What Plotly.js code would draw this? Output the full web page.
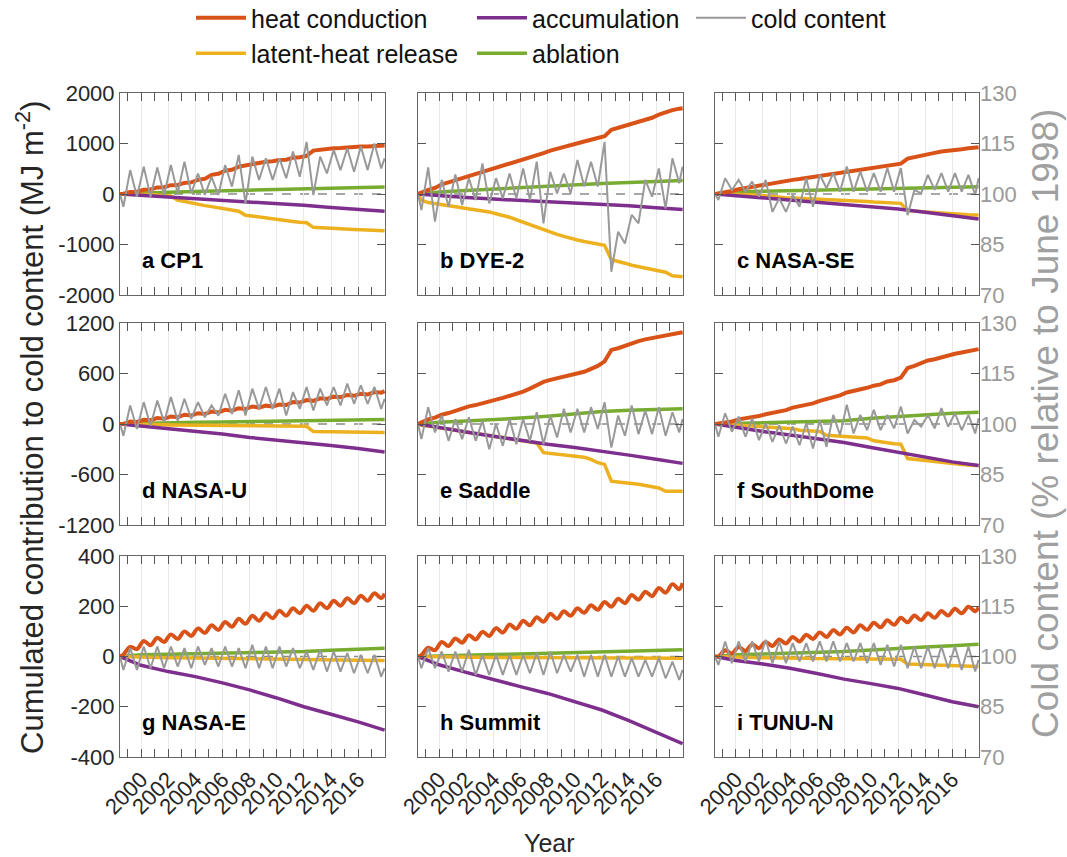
<!DOCTYPE html>
<html>
<head>
<meta charset="utf-8">
<script src="https://cdn.plot.ly/plotly-3.0.1.min.js"></script>
<style>html,body{margin:0;padding:0;background:#fff;}#chart{width:1067px;height:857px;}</style>
</head>
<body>
<div id="chart"></div>
<script>
// ---------- time axes ----------
const T2 = [1998.45, 1998.7, 1999.2, 1999.7, 2000.2, 2000.7, 2001.2, 2001.7, 2002.2, 2002.7, 2003.2, 2003.7, 2004.2, 2004.7, 2005.2, 2005.7, 2006.2, 2006.7, 2007.2, 2007.7, 2008.2, 2008.7, 2009.2, 2009.7, 2010.2, 2010.7, 2011.2, 2011.7, 2012.2, 2012.7, 2013.2, 2013.7, 2014.2, 2014.7, 2015.2, 2015.7, 2016.2, 2016.7, 2017.2, 2017.7, 2017.95];
const TY = [1998.45, 2000, 2002, 2004, 2006, 2008, 2010, 2012, 2014, 2016, 2017.95];

// ---------- labels / ticks ----------
const panelLabels = ['a CP1', 'b DYE-2', 'c NASA-SE', 'd NASA-U', 'e Saddle', 'f SouthDome', 'g NASA-E', 'h Summit', 'i TUNU-N'];
const seriesNames = ['heat conduction', 'latent-heat release', 'accumulation', 'ablation', 'cold content'];
const leftTicks = [[-2000, -1000, 0, 1000, 2000], [-1200, -600, 0, 600, 1200], [-400, -200, 0, 200, 400]];
const rightTicks = [70, 85, 100, 115, 130];
const yearTicks = [2000, 2002, 2004, 2006, 2008, 2010, 2012, 2014, 2016];

// ---------- heat conduction (MJ m-2, on T2) ----------
const heatA = [0, 5, 40, 45, 85, 90, 130, 135, 175, 180, 220, 230, 280, 300, 380, 400, 460, 480, 540, 565, 600, 610, 640, 650, 675, 680, 720, 730, 755, 860, 880, 890, 905, 910, 925, 928, 940, 942, 955, 958, 960];
const heatB = [0, 30, 80, 120, 190, 230, 270, 310, 360, 400, 440, 480, 520, 560, 600, 640, 690, 730, 770, 810, 860, 900, 935, 965, 1010, 1040, 1075, 1100, 1145, 1270, 1310, 1345, 1385, 1430, 1470, 1510, 1570, 1620, 1660, 1690, 1700];
const heatC = [0, 10, 40, 60, 95, 120, 150, 170, 200, 215, 240, 255, 280, 295, 315, 330, 355, 370, 395, 410, 435, 450, 480, 495, 515, 525, 550, 565, 600, 700, 730, 775, 800, 815, 840, 850, 870, 885, 905, 915, 925];
const heatD = [0, 0, 30, 25, 50, 45, 70, 62, 90, 80, 110, 100, 128, 118, 148, 138, 168, 158, 188, 178, 208, 195, 218, 208, 232, 225, 262, 255, 285, 275, 305, 298, 325, 318, 345, 335, 360, 350, 380, 372, 390];
const heatE = [0, 20, 55, 75, 110, 130, 160, 180, 210, 225, 250, 265, 290, 310, 335, 355, 385, 420, 460, 500, 525, 545, 565, 580, 600, 620, 655, 690, 745, 880, 900, 930, 965, 985, 1005, 1020, 1045, 1060, 1075, 1085, 1090];
const heatF = [0, 5, 25, 30, 55, 65, 85, 95, 115, 130, 155, 165, 195, 210, 235, 245, 275, 295, 320, 340, 375, 390, 415, 430, 455, 470, 505, 520, 550, 665, 690, 720, 755, 770, 795, 810, 835, 850, 870, 880, 890];
const heatG = [0, 8, 38, 30, 62, 45, 75, 58, 88, 70, 100, 82, 112, 94, 124, 106, 137, 118, 150, 130, 162, 142, 172, 152, 182, 162, 192, 172, 202, 182, 212, 192, 222, 202, 232, 212, 242, 222, 252, 232, 250];
const heatH = [0, 5, 35, 25, 58, 42, 72, 55, 85, 68, 98, 82, 113, 95, 127, 110, 142, 124, 156, 138, 170, 150, 180, 162, 192, 174, 204, 186, 217, 198, 230, 212, 245, 226, 258, 240, 273, 254, 288, 268, 292];
const heatI = [0, 0, 25, 12, 38, 22, 48, 33, 58, 42, 68, 52, 78, 60, 87, 70, 96, 78, 105, 88, 114, 96, 124, 106, 134, 116, 144, 126, 154, 136, 163, 145, 172, 154, 181, 163, 190, 172, 198, 180, 195];

// ---------- latent-heat release ----------
const latentA = [0, 0, 0, 0, 0, -10, -20, -30, -40, -120, -150, -180, -210, -230, -250, -270, -290, -310, -340, -420, -440, -460, -470, -490, -510, -530, -545, -560, -570, -660, -670, -680, -690, -695, -700, -705, -710, -715, -720, -728, -730];
const latentB = [0, -120, -170, -190, -215, -235, -255, -270, -290, -310, -330, -355, -390, -420, -460, -510, -560, -610, -660, -715, -750, -800, -840, -880, -910, -940, -970, -1000, -1015, -1300, -1330, -1370, -1410, -1440, -1470, -1500, -1530, -1550, -1620, -1640, -1640];
const latentC = [0, 0, 0, 0, -5, -10, -15, -25, -40, -55, -65, -75, -80, -85, -90, -95, -100, -105, -110, -120, -130, -140, -145, -150, -160, -165, -170, -175, -185, -330, -340, -355, -365, -375, -385, -390, -400, -405, -410, -415, -415];
const latentD = [0, 0, -2, -4, -5, -6, -8, -10, -11, -12, -14, -15, -16, -17, -18, -19, -20, -21, -22, -23, -24, -25, -25, -26, -26, -27, -27, -28, -28, -90, -91, -92, -93, -94, -95, -96, -97, -98, -99, -100, -100];
const latentE = [0, -15, -25, -35, -45, -60, -75, -90, -100, -110, -120, -130, -145, -160, -175, -190, -205, -215, -225, -340, -350, -360, -365, -370, -380, -395, -420, -460, -480, -680, -690, -695, -700, -715, -730, -740, -760, -800, -800, -800, -800];
const latentF = [0, 0, -5, -10, -15, -20, -25, -30, -35, -40, -45, -50, -55, -75, -80, -85, -90, -135, -140, -145, -150, -155, -160, -165, -200, -215, -225, -235, -240, -410, -420, -430, -440, -450, -460, -468, -475, -482, -488, -492, -495];
const latentG = [0, -3, -5, -6, -8, -9, -11, -13, -14, -15, -16];
const latentH = [0, -2, -3, -4, -4, -5, -5, -6, -6, -7, -7];
const latentI = [0, 0, -1, -2, -3, -3, -4, -4, -5, -5, -6, -6, -7, -7, -7, -8, -8, -8, -9, -9, -9, -9, -10, -10, -10, -10, -11, -11, -11, -30, -31, -32, -33, -34, -35, -36, -37, -38, -39, -40, -40];

// ---------- accumulation (on TY) ----------
const accumA = [0, -25, -55, -85, -120, -155, -190, -225, -265, -300, -340];
const accumB = [0, -35, -70, -100, -125, -150, -175, -205, -235, -270, -305];
const accumC = [0, -35, -80, -120, -160, -200, -245, -295, -360, -430, -495];
const accumD = [0, -25, -50, -80, -120, -160, -190, -220, -255, -292, -332];
const accumE = [0, -45, -95, -145, -195, -240, -280, -320, -370, -420, -468];
const accumF = [0, -40, -90, -130, -175, -220, -280, -340, -400, -450, -492];
const accumG = [0, -35, -60, -80, -105, -133, -165, -200, -230, -260, -293];
const accumH = [0, -33, -63, -93, -120, -147, -180, -213, -255, -300, -347];
const accumI = [0, -16, -30, -47, -68, -90, -108, -127, -153, -180, -200];

// ---------- ablation (on TY) ----------
const ablA = [0, 20, 35, 50, 65, 80, 95, 110, 120, 130, 140];
const ablB = [0, 40, 70, 100, 130, 160, 185, 210, 230, 250, 265];
const ablC = [0, 45, 55, 65, 75, 90, 105, 115, 125, 135, 145];
const ablD = [0, 8, 15, 20, 24, 28, 33, 38, 43, 48, 52];
const ablE = [0, 20, 35, 48, 70, 92, 120, 148, 162, 172, 180];
const ablF = [0, 8, 18, 28, 35, 40, 68, 88, 118, 128, 140];
const ablG = [0, 7, 9, 11, 12, 13, 16, 20, 25, 29, 33];
const ablH = [0, 3, 6, 8, 10, 13, 15, 17, 21, 24, 27];
const ablI = [0, 7, 10, 13, 16, 20, 26, 33, 38, 43, 49];

// ---------- cold content (% relative to June 1998, on T2) ----------
const coldA = [100, 96.2, 107.1, 99.2, 108.1, 99.2, 107.9, 99.7, 108.6, 100.2, 109.6, 100.2, 106.1, 99.7, 105.1, 99.7, 108.6, 102.2, 111.6, 97.2, 111.1, 104.2, 110.6, 104.2, 110.6, 104.7, 112.6, 105.1, 115.5, 99.7, 111.1, 106.1, 113.1, 107.1, 113.6, 106.6, 114.1, 107.1, 115.0, 107.6, 110.6];
const coldB = [100, 95.2, 107.9, 91.8, 104.2, 96.2, 105.8, 96.7, 104.7, 98.2, 109.1, 97.2, 104.7, 98.7, 106.1, 98.7, 107.6, 98.2, 109.6, 91.3, 106.6, 100.2, 106.1, 100.2, 110.1, 102.2, 109.6, 102.2, 115.5, 76.9, 88.8, 85.3, 93.8, 91.3, 104.2, 99.2, 107.6, 95.7, 110.6, 103.2, 108.1];
const coldC = [100, 98.2, 104.7, 101.2, 104.2, 100.7, 103.7, 99.2, 104.2, 94.7, 98.7, 94.7, 99.7, 96.2, 104.7, 96.2, 105.7, 101.7, 106.2, 100.7, 108.2, 100.7, 106.7, 100.7, 106.2, 100.7, 107.7, 100.7, 107.7, 93.7, 101.2, 100.2, 105.7, 101.2, 106.2, 100.7, 106.2, 100.7, 105.7, 99.7, 104.7];
const coldD = [100, 96.5, 105.5, 98.5, 106.5, 99.5, 107, 100.5, 108, 101, 107.5, 101.5, 106.5, 102, 105.5, 102.5, 109, 103, 110, 102.5, 110.5, 104.5, 111, 104.5, 110.5, 102.5, 109.5, 104.5, 111, 104, 110.5, 105.5, 111, 105.5, 112, 106, 111.5, 106, 111, 104.5, 107.5];
const coldE = [100, 95.5, 105, 97.5, 102.5, 95, 101.5, 95.5, 102, 95, 101, 92.5, 100, 93.5, 101.5, 94, 101.5, 95, 103.5, 94, 102.5, 96, 104.5, 97.5, 104.5, 97.5, 105, 98.5, 106.5, 93, 102.5, 96.5, 105.5, 97, 104, 97, 105, 96.5, 103.5, 97.5, 101.5];
const coldF = [100, 96.2, 103.2, 97.7, 102.2, 96.2, 101.7, 95.2, 100.2, 94.7, 99.7, 94.2, 99.2, 93.7, 100.2, 92.7, 101.2, 93.2, 102.7, 96.7, 105.7, 97.2, 102.7, 98.2, 104.2, 98.2, 102.7, 98.7, 105.2, 97.2, 101.2, 99.2, 102.7, 98.7, 104.7, 99.2, 103.2, 98.2, 102.7, 97.2, 101.7];
const coldG = [100, 96, 102.5, 96, 103, 96.5, 103, 96.5, 103, 97, 102.5, 96.5, 103, 97.5, 102.5, 97, 103, 97, 102.5, 96.5, 103.5, 96.5, 103, 96.5, 103, 97, 102.5, 96.5, 101.5, 96, 102, 95.5, 101.5, 95.5, 101, 95, 100.5, 95, 100.5, 94, 96.5];
const coldH = [100, 96.5, 102.5, 96.5, 101.5, 95.5, 101.5, 95.5, 102, 94.5, 100.5, 94.5, 100.5, 94.5, 100.5, 94.5, 100.5, 95, 101, 94.5, 101.5, 95, 100.5, 95.5, 100.5, 94, 100.5, 94, 100.5, 94, 100, 94, 99.5, 94, 99, 94, 99.5, 93.5, 98.5, 93, 96];
const coldI = [100, 97.5, 104.5, 98, 104.5, 98.5, 104.5, 98.5, 105, 98, 104.5, 98, 104, 98.5, 104, 98.5, 104.5, 98.5, 104.5, 98.5, 104, 98.5, 104, 98, 104, 97.5, 103.5, 97, 103.5, 96.5, 103, 96.5, 103, 96.5, 103, 96.5, 103, 96, 103, 95.5, 99];

// ---------- assemble ----------
const panels = [
  {heat: heatA, latent: latentA, latentT: T2, accum: accumA, abl: ablA, cold: coldA},
  {heat: heatB, latent: latentB, latentT: T2, accum: accumB, abl: ablB, cold: coldB},
  {heat: heatC, latent: latentC, latentT: T2, accum: accumC, abl: ablC, cold: coldC},
  {heat: heatD, latent: latentD, latentT: T2, accum: accumD, abl: ablD, cold: coldD},
  {heat: heatE, latent: latentE, latentT: T2, accum: accumE, abl: ablE, cold: coldE},
  {heat: heatF, latent: latentF, latentT: T2, accum: accumF, abl: ablF, cold: coldF},
  {heat: heatG, latent: latentG, latentT: TY, accum: accumG, abl: ablG, cold: coldG},
  {heat: heatH, latent: latentH, latentT: TY, accum: accumH, abl: ablH, cold: coldH},
  {heat: heatI, latent: latentI, latentT: T2, accum: accumI, abl: ablI, cold: coldI}
];

const W = 1067, H = 857;
const colPx = [[120, 385], [418, 683], [715, 979]];
const rowPx = [[93, 295], [323, 525], [556, 757]];
const COL = {heat: '#D95319', latent: '#EDB120', accum: '#7E2F8E', abl: '#77AC30', cold: '#999999'};
const FONT = 'Liberation Sans, Arial, Helvetica, sans-serif';
const AXC = '#262626';
const TICKSIZE = 22;

const legendBase = {yanchor: 'top', xanchor: 'left', orientation: 'v', font: {size: 25, color: '#111', family: FONT},
  bgcolor: 'rgba(0,0,0,0)', itemwidth: 50, tracegroupgap: 0, y: 1 + 5 / H};

const data = [];
const layout = {
  width: W, height: H,
  margin: {l: 0, r: 0, t: 0, b: 0, autoexpand: false},
  paper_bgcolor: '#fff', plot_bgcolor: 'rgba(0,0,0,0)',
  font: {family: FONT, color: AXC, size: TICKSIZE},
  shapes: [], annotations: [],
  legend: Object.assign({}, legendBase, {x: 191 / W}),
  legend2: Object.assign({}, legendBase, {x: 472 / W}),
  legend3: Object.assign({}, legendBase, {x: 691 / W})
};

panels.forEach((p, i) => {
  const r = Math.floor(i / 3), c = i % 3;
  const n = i + 1;
  const xa = n === 1 ? 'x' : 'x' + n;
  const ya = n === 1 ? 'y' : 'y' + n;
  const yr = 'y' + (n + 9);
  const xd = [colPx[c][0] / W, colPx[c][1] / W];
  const yd = [1 - rowPx[r][1] / H, 1 - rowPx[r][0] / H];
  const lt = leftTicks[r];
  const first = i === 0;

  layout[n === 1 ? 'xaxis' : 'xaxis' + n] = {
    domain: xd, anchor: ya, range: [1998.45, 2017.98],
    tickmode: 'array', tickvals: yearTicks, ticktext: yearTicks.map(String),
    ticks: 'inside', ticklen: 8, tickwidth: 1, tickcolor: '#555',
    minor: {tickmode: 'linear', tick0: 1999, dtick: 2, ticks: 'inside', ticklen: 4, tickcolor: '#555', showgrid: false},
    showgrid: true, gridcolor: '#e9e9e9', gridwidth: 1, zeroline: false,
    showline: true, linecolor: '#666', linewidth: 1, mirror: 'allticks',
    showticklabels: r === 2, tickangle: -45, tickfont: {size: TICKSIZE, color: AXC, family: FONT}
  };
  layout[n === 1 ? 'yaxis' : 'yaxis' + n] = {
    domain: yd, anchor: xa, range: [lt[0], lt[4]],
    tickmode: 'array', tickvals: lt, ticktext: lt.map(String),
    ticks: 'inside', ticklen: 8, tickwidth: 1, tickcolor: '#555',
    showgrid: false, zeroline: false, showline: true, linecolor: '#666', linewidth: 1, mirror: 'allticks',
    showticklabels: c === 0, tickfont: {size: TICKSIZE, color: AXC, family: FONT}
  };
  layout['yaxis' + (n + 9)] = {
    overlaying: ya, anchor: xa, side: 'right', range: [70, 130],
    tickmode: 'array', tickvals: rightTicks, ticktext: rightTicks.map(String),
    ticks: '', showgrid: false, zeroline: false, showline: false,
    showticklabels: c === 2, tickfont: {size: TICKSIZE, color: '#999999', family: FONT}
  };

  // dashed zero reference
  layout.shapes.push({type: 'line', xref: xa + ' domain', yref: ya, x0: 0, x1: 1, y0: 0, y1: 0,
    line: {color: '#8a8a8a', width: 1.5, dash: 'dash'}, layer: 'below'});

  data.push({x: TY, y: p.abl, xaxis: xa, yaxis: ya, type: 'scatter', mode: 'lines', name: seriesNames[3],
    line: {color: COL.abl, width: 3.5}, showlegend: first, legend: 'legend2', legendrank: 2, hoverinfo: 'skip'});
  data.push({x: p.latentT, y: p.latent, xaxis: xa, yaxis: ya, type: 'scatter', mode: 'lines', name: seriesNames[1],
    line: {color: COL.latent, width: 3.5}, showlegend: first, legend: 'legend', legendrank: 2, hoverinfo: 'skip'});
  data.push({x: TY, y: p.accum, xaxis: xa, yaxis: ya, type: 'scatter', mode: 'lines', name: seriesNames[2],
    line: {color: COL.accum, width: 3.5}, showlegend: first, legend: 'legend2', legendrank: 1, hoverinfo: 'skip'});
  data.push({x: T2, y: p.heat, xaxis: xa, yaxis: ya, type: 'scatter', mode: 'lines', name: seriesNames[0],
    line: {color: COL.heat, width: 4, shape: r === 2 ? 'spline' : 'linear'}, showlegend: first, legend: 'legend', legendrank: 1, hoverinfo: 'skip'});
  data.push({x: T2, y: p.cold, xaxis: xa, yaxis: yr, type: 'scatter', mode: 'lines', name: seriesNames[4],
    line: {color: COL.cold, width: 2}, showlegend: first, legend: 'legend3', legendrank: 1, hoverinfo: 'skip'});

  layout.annotations.push({text: '<b>' + panelLabels[i] + '</b>', xref: xa + ' domain', yref: ya + ' domain',
    x: 0.075, y: 0.17, xanchor: 'left', yanchor: 'middle', showarrow: false,
    font: {size: 22, color: '#000', family: FONT}});
});

layout.annotations.push({text: 'Cumulated contribution to cold content (MJ m<sup>-2</sup>)', xref: 'paper', yref: 'paper',
  x: 30 / W, y: 1 - 428 / H, xanchor: 'center', yanchor: 'middle', textangle: -90, showarrow: false,
  font: {size: 31, color: AXC, family: FONT}});
layout.annotations.push({text: 'Cold content (% relative to June 1998)', xref: 'paper', yref: 'paper',
  x: 1045 / W, y: 1 - 424 / H, xanchor: 'center', yanchor: 'middle', textangle: -90, showarrow: false,
  font: {size: 37, color: '#a0a0a0', family: FONT}});
layout.annotations.push({text: 'Year', xref: 'paper', yref: 'paper',
  x: 550 / W, y: 1 - 843 / H, xanchor: 'center', yanchor: 'middle', showarrow: false,
  font: {size: 25, color: AXC, family: FONT}});

Plotly.newPlot('chart', data, layout, {displayModeBar: false, staticPlot: true});
</script>
</body>
</html>
